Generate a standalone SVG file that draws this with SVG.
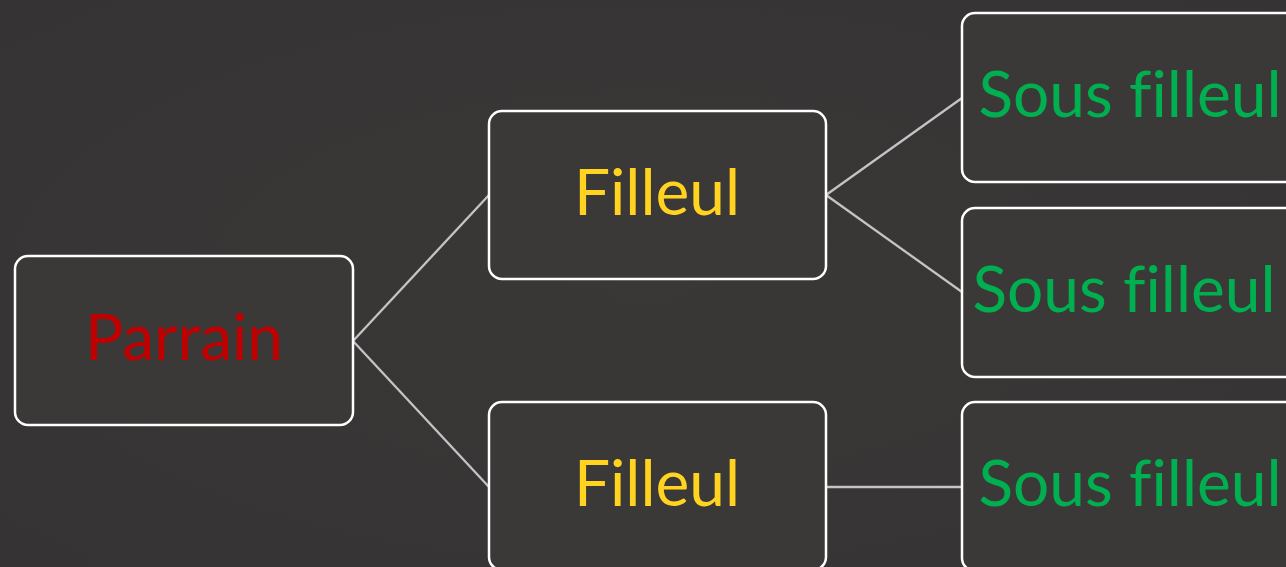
<svg xmlns="http://www.w3.org/2000/svg" width="1286" height="567" viewBox="0 0 1286 567">
<defs>
<radialGradient id="bg" cx="50%" cy="50%" r="70%">
<stop offset="0" stop-color="#3a3837"/>
<stop offset="1" stop-color="#353333"/>
</radialGradient>
</defs>
<style>
.box{fill:#3b3938;stroke:#ffffff;stroke-width:2.5}
.conn{stroke:#c4c4c4;stroke-width:2.3;fill:none}
.t{font-family:Lato,"Open Sans",sans-serif;text-anchor:middle;font-variant-ligatures:none;font-feature-settings:"liga" 0}
.red{fill:#c00000}
.yel{fill:#ffd320}
.grn{fill:#00b050}
</style>
<rect width="1286" height="567" fill="url(#bg)"/>
<g id="connectors">
<line class="conn" x1="353" y1="341" x2="489" y2="195"/>
<line class="conn" x1="353" y1="341" x2="489" y2="487"/>
<line class="conn" x1="826" y1="195" x2="962" y2="98"/>
<line class="conn" x1="826" y1="195" x2="962" y2="292"/>
<line class="conn" x1="826" y1="487" x2="962" y2="487"/>
</g>
<g id="parrain">
<rect class="box" x="15" y="256" width="338" height="169" rx="13"/>
<text class="t red" x="184" y="360" font-size="64">Parrain</text>
</g>
<g id="filleul1">
<rect class="box" x="489" y="111" width="337" height="168" rx="13"/>
<text class="t yel" x="657" y="215" font-size="64">Filleul</text>
</g>
<g id="filleul2">
<rect class="box" x="489" y="402" width="337" height="168" rx="13"/>
<text class="t yel" x="657" y="506" font-size="64">Filleul</text>
</g>
<g id="sousfilleul1">
<rect class="box" x="962" y="13" width="337" height="169" rx="13"/>
<text class="t grn" x="1130" y="117" font-size="64">Sous filleul</text>
</g>
<g id="sousfilleul2">
<rect class="box" x="962" y="208" width="337" height="169" rx="13"/>
<text class="t grn" x="1124" y="312" font-size="64">Sous filleul</text>
</g>
<g id="sousfilleul3">
<rect class="box" x="962" y="402" width="337" height="169" rx="13"/>
<text class="t grn" x="1130" y="506" font-size="64">Sous filleul</text>
</g>
</svg>
